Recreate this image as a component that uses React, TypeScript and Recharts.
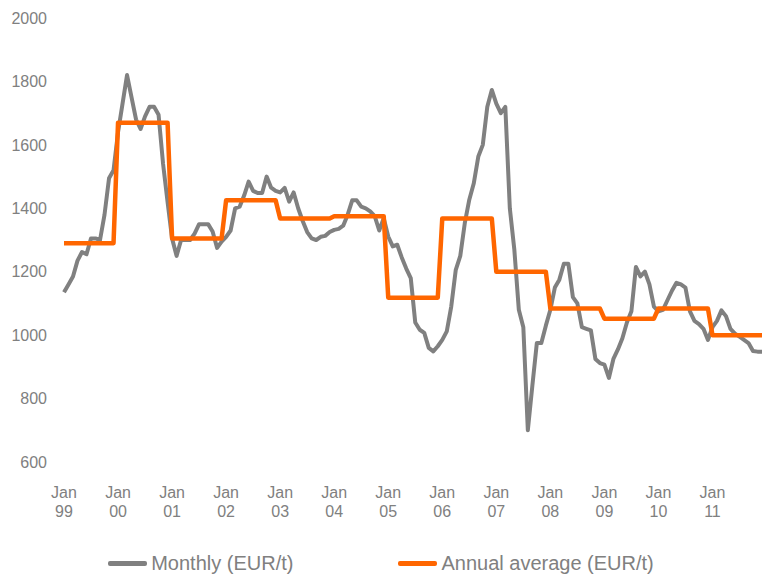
import { LineChart, Line, XAxis, YAxis, Legend } from "recharts";

document.body.style.margin = "0";

const FONT = "'Liberation Sans', Arial, sans-serif";
const TEXT = "#808080";
const MONTHLY_COLOR = "#808080";
const ANNUAL_COLOR = "#ff6600";

// monthly price, Jan 1999 .. Dec 2011 (EUR/t)
const monthlyPrice = [
  1135, 1160, 1185, 1235, 1262, 1255, 1305, 1305, 1300, 1380, 1495, 1520, // 99
  1640, 1730, 1820, 1750, 1680, 1650, 1690, 1720, 1720, 1695, 1540, 1420, // 00
  1305, 1250, 1300, 1300, 1300, 1320, 1350, 1350, 1350, 1327, 1275, 1295, // 01
  1310, 1330, 1400, 1405, 1440, 1484, 1455, 1448, 1448, 1500, 1465, 1455, // 02
  1450, 1464, 1421, 1450, 1400, 1360, 1325, 1305, 1300, 1310, 1313, 1325, // 03
  1332, 1335, 1345, 1380, 1425, 1425, 1405, 1400, 1390, 1375, 1330, 1369, // 04
  1311, 1280, 1285, 1245, 1210, 1180, 1040, 1017, 1007, 960, 949, 965, // 05
  985, 1012, 1091, 1206, 1250, 1353, 1427, 1479, 1563, 1600, 1720, 1773, // 06
  1730, 1700, 1720, 1400, 1270, 1080, 1025, 700, 840, 975, 975, 1030, // 07
  1080, 1150, 1175, 1225, 1225, 1120, 1100, 1025, 1020, 1015, 925, 912, // 08
  907, 865, 925, 955, 990, 1040, 1075, 1215, 1185, 1200, 1160, 1090, // 09
  1075, 1080, 1110, 1140, 1165, 1160, 1150, 1075, 1045, 1035, 1020, 985, // 10
  1025, 1045, 1078, 1060, 1020, 1005, 995, 985, 975, 950, 948, 948, // 11
];

const annualAverage = [1290, 1670, 1305, 1425, 1368, 1375, 1118, 1368, 1200, 1084, 1052, 1084, 1000];
const yearLabels = ["99", "00", "01", "02", "03", "04", "05", "06", "07", "08", "09", "10", "11"];
const yTicks = [600, 800, 1000, 1200, 1400, 1600, 1800, 2000];

const data = monthlyPrice.map((v, i) => ({
  idx: i,
  monthly: v,
  annual: annualAverage[Math.floor(i / 12)],
}));

const xTicks = yearLabels.map((_, k) => k * 12);

function JanTick({ x, y, payload }: { x?: number; y?: number; payload?: { value: number } }) {
  const label = yearLabels[Math.round((payload?.value ?? 0) / 12)];
  return (
    <text x={x} y={y} textAnchor="middle" fill={TEXT} fontSize={16} fontFamily={FONT}>
      <tspan x={x} dy={34}>Jan</tspan>
      <tspan x={x} dy={19}>{label}</tspan>
    </text>
  );
}

function LegendContent() {
  const items = [
    { name: "Monthly (EUR/t)", color: MONTHLY_COLOR },
    { name: "Annual average (EUR/t)", color: ANNUAL_COLOR },
  ];
  return (
    <div style={{ display: "flex", justifyContent: "center", gap: 105, height: 26, alignItems: "center" }}>
      {items.map((it) => (
        <div key={it.name} style={{ display: "flex", alignItems: "center" }}>
          <span style={{ display: "inline-block", width: 39, height: 5, borderRadius: 2, background: it.color, marginRight: 4 }} />
          <span style={{ fontFamily: FONT, fontSize: 20, color: TEXT, lineHeight: "26px" }}>{it.name}</span>
        </div>
      ))}
    </div>
  );
}

export default function App() {
  return (
    <div style={{ width: 762, height: 576, background: "#fff" }}>
      <LineChart width={762} height={576} data={data} margin={{ top: 18, right: 0, left: 0, bottom: 0 }}>
        <XAxis
          dataKey="idx"
          type="number"
          domain={[0, 155]}
          ticks={xTicks}
          tick={<JanTick />}
          axisLine={false}
          tickLine={false}
          tickSize={0}
          height={88}
          interval={0}
        />
        <YAxis
          type="number"
          domain={[600, 2000]}
          ticks={yTicks}
          width={64}
          axisLine={false}
          tickLine={false}
          tickSize={0}
          tickMargin={17}
          tick={{ fill: TEXT, fontSize: 16, fontFamily: FONT }}
        />
        <Legend verticalAlign="bottom" content={<LegendContent />} />
        <Line
          type="linear"
          dataKey="monthly"
          name="Monthly (EUR/t)"
          stroke={MONTHLY_COLOR}
          strokeWidth={4}
          strokeLinejoin="round"
          dot={false}
          isAnimationActive={false}
        />
        <Line
          type="linear"
          dataKey="annual"
          name="Annual average (EUR/t)"
          stroke={ANNUAL_COLOR}
          strokeWidth={4.5}
          strokeLinejoin="round"
          dot={false}
          isAnimationActive={false}
        />
      </LineChart>
    </div>
  );
}
